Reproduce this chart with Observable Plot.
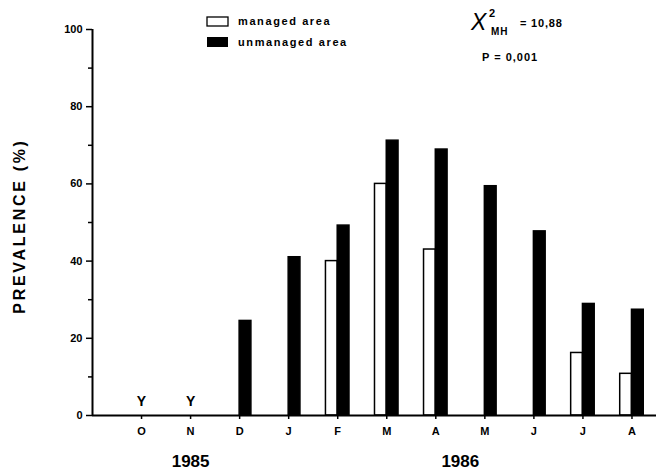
<!DOCTYPE html>
<html>
<head>
<meta charset="utf-8">
<script src="https://cdn.jsdelivr.net/npm/d3@7"></script>
<script src="https://cdn.jsdelivr.net/npm/@observablehq/plot@0.6"></script>
<style>
  html, body { margin: 0; padding: 0; background: #fff; }
  svg { display: block; }
</style>
</head>
<body>
<div id="chart"></div>
<script>
// Month labels (Oct 1985 – Aug 1986)
const months = ["O", "N", "D", "J", "F", "M", "A", "M", "J", "J", "A"];
// Prevalence (%) — null = no bar
const managed   = [null, null, null, null, 40, 60, 43, null, null, 16.2, 10.8];
const unmanaged = [null, null, 24.5, 41, 49.2, 71.2, 68.9, 59.4, 47.7, 28.9, 27.4];
// "Y" markers (months with no sample)
const markers = ["Y", "Y", null, null, null, null, null, null, null, null, null];
const years = ["1985", "1986"];
const yMajor = [0, 20, 40, 60, 80, 100];
const yMinor = [10, 30, 50, 70, 90];

const bars = [];
months.forEach((m, i) => {
  if (managed[i] != null) bars.push({pos: i + 1, series: "managed", value: managed[i]});
  if (unmanaged[i] != null) bars.push({pos: i + 1, series: "unmanaged", value: unmanaged[i]});
});
const marks = markers.map((t, i) => ({pos: i + 1, t})).filter(d => d.t);

const W = 0.24; // bar width in month units
const font = "'Liberation Sans', Arial, sans-serif";

const chart = Plot.plot({
  width: 656,
  height: 475,
  marginLeft: 92,
  marginRight: 0,
  marginTop: 29,
  marginBottom: 60,
  style: {fontFamily: font, background: "#fff", color: "#000"},
  x: {domain: [0, 11.5], axis: null},
  y: {domain: [0, 100], axis: null},
  marks: [
    Plot.rectY(bars, {
      x1: d => d.series === "managed" ? d.pos - W : d.pos,
      x2: d => d.series === "managed" ? d.pos : d.pos + W,
      y1: 0,
      y2: "value",
      fill: d => d.series === "managed" ? "#fff" : "#000",
      stroke: "#000",
      strokeWidth: 1.5
    }),
    Plot.axisY({ticks: yMajor, tickSize: 6, tickPadding: 4, fontSize: 11, fontWeight: "bold", tickFormat: d => d, strokeWidth: 1.5, label: null}),
    Plot.axisY({ticks: yMinor, tickSize: 4, tickFormat: () => "", strokeWidth: 1.5, label: null}),
    Plot.axisX({ticks: d3.range(1, months.length + 1), tickSize: 4, tickPadding: 8, fontSize: 11, fontWeight: "bold", tickFormat: d => months[d - 1], strokeWidth: 1.5, label: null}),
    Plot.ruleX([0], {stroke: "#000", strokeWidth: 2}),
    Plot.ruleY([0], {stroke: "#000", strokeWidth: 2}),
    Plot.text(marks, {x: "pos", y: 0, text: "t", dy: -14, fontSize: 14, fontWeight: "bold"}),
    Plot.text([years[0]], {x: [2], frameAnchor: "bottom", dy: 51, fontSize: 17, fontWeight: "bold", text: d => d}),
    Plot.text([years[1]], {x: [7.5], frameAnchor: "bottom", dy: 51, fontSize: 17, fontWeight: "bold", text: d => d})
  ]
});

document.getElementById("chart").appendChild(chart);

// Axis title, legend & statistics annotations
const svg = d3.select(chart);
const g = svg.append("g").attr("font-family", font).attr("font-weight", "bold").attr("text-anchor", "start").attr("fill", "#000");

g.append("text")
  .attr("transform", "translate(25,226) rotate(-90)")
  .attr("text-anchor", "middle")
  .attr("font-size", 16)
  .attr("letter-spacing", "2.7px")
  .text("PREVALENCE (%)");

g.append("rect").attr("x", 207).attr("y", 17).attr("width", 21).attr("height", 9)
  .attr("fill", "#fff").attr("stroke", "#000").attr("stroke-width", 1.3);
g.append("rect").attr("x", 207).attr("y", 37).attr("width", 21).attr("height", 10)
  .attr("fill", "#000");
g.append("text").attr("x", 238).attr("y", 25).attr("font-size", 11).attr("letter-spacing", "1.6px").text("managed area");
g.append("text").attr("x", 238).attr("y", 46).attr("font-size", 11).attr("letter-spacing", "1.6px").text("unmanaged area");

g.append("text").attr("x", 471).attr("y", 30).attr("font-size", 23).attr("font-weight", "normal").attr("font-style", "italic").text("X");
g.append("text").attr("x", 489).attr("y", 17).attr("font-size", 11).text("2");
g.append("text").attr("x", 491).attr("y", 35).attr("font-size", 10).attr("letter-spacing", "1px").text("MH");
g.append("text").attr("x", 520).attr("y", 27).attr("font-size", 11).attr("letter-spacing", "0.8px").text("= 10,88");
g.append("text").attr("x", 482).attr("y", 61).attr("font-size", 11).attr("letter-spacing", "1px").text("P = 0,001");
</script>
</body>
</html>
